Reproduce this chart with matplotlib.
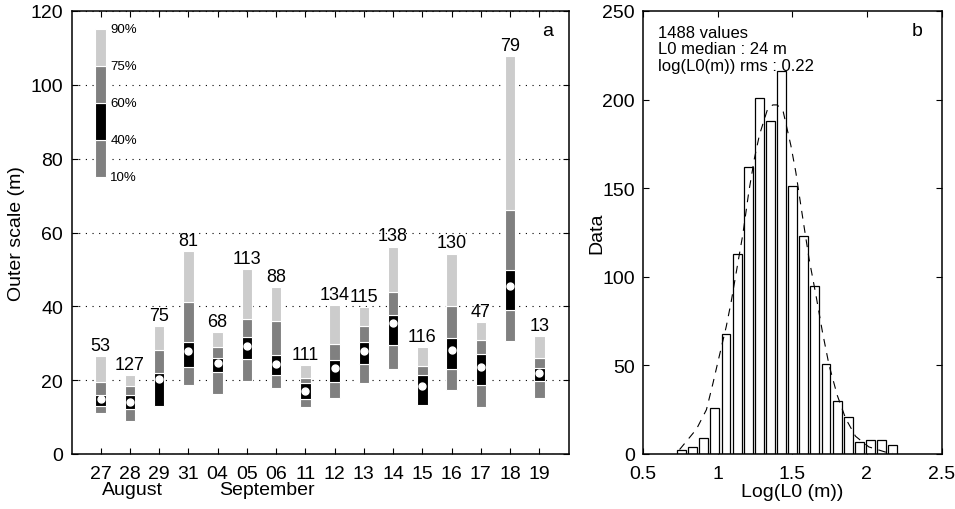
import matplotlib
matplotlib.use('Agg')
import matplotlib.pyplot as plt
import numpy as np

plt.rcParams['font.family'] = ['Liberation Sans', 'DejaVu Sans']

# ---------------- data: panel a ----------------
dates = ['27', '28', '29', '31', '04', '05', '06', '11', '12', '13', '14', '15', '16', '17', '18', '19']
counts = [53, 127, 75, 81, 68, 113, 88, 111, 134, 115, 138, 116, 130, 47, 79, 13]
p10 = [11.0, 9.0, 12.9, 18.6, 16.3, 19.7, 17.8, 12.7, 15.1, 19.3, 23.1, 13.4, 17.4, 12.7, 30.6, 15.2]
p40 = [12.9, 12.2, 12.9, 23.7, 22.2, 25.6, 21.3, 14.9, 19.5, 24.3, 29.4, 13.4, 23.0, 18.8, 38.9, 19.7]
p60 = [16.0, 16.1, 22.0, 30.3, 26.1, 31.6, 26.7, 19.2, 25.5, 30.3, 37.6, 21.3, 31.5, 27.2, 49.8, 23.3]
p75 = [19.6, 18.3, 28.3, 41.2, 29.1, 36.5, 36.1, 20.7, 29.9, 34.6, 43.9, 23.9, 40.1, 30.9, 66.2, 26.0]
p90 = [26.5, 21.3, 34.7, 55.0, 33.1, 50.0, 45.3, 24.0, 40.3, 39.7, 56.2, 29.0, 54.3, 35.7, 107.7, 32.0]
median = [14.9, 14.2, 20.2, 27.9, 24.7, 29.2, 24.3, 17.0, 23.3, 27.9, 35.6, 18.4, 28.1, 23.7, 45.4, 22.0]
months = ['August', 'September']
month_pos = [2.1, 6.7]

legend_levels = [75, 85, 95, 105, 115]
legend_labels = ['10%', '40%', '60%', '75%', '90%']

# ---------------- data: panel b ----------------
bin_centers = [0.758, 0.832, 0.907, 0.981, 1.056, 1.130, 1.205, 1.279, 1.354, 1.428,
               1.503, 1.577, 1.651, 1.726, 1.800, 1.875, 1.949, 2.024, 2.098, 2.172]
hist_counts = [2, 4, 9, 26, 68, 113, 162, 201, 188, 216, 151, 123, 95, 51, 30, 21, 7, 8, 8, 5]
fit_x = [0.745, 0.858, 0.925, 0.969, 1.002, 1.058, 1.091, 1.136, 1.169, 1.209, 1.247, 1.280,
         1.336, 1.370, 1.400, 1.440, 1.491, 1.524, 1.567, 1.613, 1.658, 1.702, 1.747, 1.802,
         1.858, 1.924, 2.013, 2.124, 2.172]
fit_y = [2.5, 14, 25, 40, 52, 72, 86, 108, 124, 148, 167, 180,
         195, 197, 197, 193, 174, 159, 135, 110, 90, 69, 50, 33,
         20, 10, 4, 1.1, 0.5]
info_lines = ['1488 values', 'L0 median : 24 m', 'log(L0(m)) rms : 0.22']

# ---------------- figure ----------------
fig = plt.figure(figsize=(9.55, 5.10), dpi=100)
ax = fig.add_axes([71.5 / 955, 55 / 510, 497 / 955, 443 / 510])
bx = fig.add_axes([643 / 955, 55 / 510, 298.5 / 955, 443 / 510])

LIGHT = '#cccccc'
MID = '#808080'

# panel a
x = np.arange(1, len(dates) + 1)
segs = [(p10, p40, MID), (p40, p60, 'black'), (p60, p75, MID), (p75, p90, LIGHT)]
bw = 0.36
for lo, hi, c in segs:
    lo = np.array(lo); hi = np.array(hi)
    ax.bar(x, hi - lo, bottom=lo, width=bw, color=c, edgecolor='white',
           linewidth=0.8, zorder=3)
ax.plot(x, median, 'o', color='white', mec='white', ms=5, zorder=4)
for xi, top, n in zip(x, p90, counts):
    ax.annotate(str(n), (xi, top), xytext=(0, 1.5), textcoords='offset points',
                ha='center', va='bottom', fontsize=13)

# legend bar
leg_colors = [MID, 'black', MID, LIGHT]
for i, c in enumerate(leg_colors):
    ax.bar(1, legend_levels[i + 1] - legend_levels[i], bottom=legend_levels[i],
           width=bw, color=c, edgecolor='white', linewidth=0.8, zorder=3)
for lev, lab in zip(legend_levels, legend_labels):
    ax.text(1.33, lev, lab, ha='left', va='center', fontsize=9.5)

ax.set_xlim(0, 17)
ax.set_ylim(0, 120)
ax.set_xticks(x)
ax.set_xticklabels(dates)
ax.set_yticks(np.arange(0, 121, 20))
ax.yaxis.grid(True, linestyle=(0, (1, 5)), color='black', linewidth=0.8)
ax.set_axisbelow(True)
ax.tick_params(axis='x', direction='in', top=True, length=4, width=0.8,
               labelsize=14, pad=8)
ax.tick_params(axis='y', direction='in', right=True, length=4, width=0.8,
               labelsize=14, pad=6)
ax.set_ylabel('Outer scale (m)', fontsize=14)
ax.yaxis.set_label_coords(-0.094, 0.5)
for m, p in zip(months, month_pos):
    ax.text(p, (455 - 491) / 443, m, transform=ax.get_xaxis_transform(),
            ha='center', va='center', fontsize=14)
ax.text(0.957, 0.955, 'a', transform=ax.transAxes, ha='center', va='center', fontsize=14)
for s in ax.spines.values():
    s.set_linewidth(1.1)

# panel b
bx.bar(bin_centers, hist_counts, width=0.06, color='white', edgecolor='black',
       linewidth=0.9, zorder=2)
bx.plot(fit_x, fit_y, color='black', lw=0.8, linestyle=(0, (7, 6)), zorder=3)
bx.set_xlim(0.5, 2.5)
bx.set_ylim(0, 250)
bx.set_xticks([0.5, 1, 1.5, 2, 2.5])
bx.set_xticklabels(['0.5', '1', '1.5', '2', '2.5'])
bx.set_yticks(np.arange(0, 251, 50))
bx.tick_params(axis='x', direction='in', top=True, length=4, width=0.8,
               labelsize=14, pad=8)
bx.tick_params(axis='y', direction='in', right=True, length=4, width=0.8,
               labelsize=14, pad=6)
bx.set_xlabel('Log(L0 (m))', fontsize=14)
bx.xaxis.set_label_coords(0.5, (455 - 484) / 443)
bx.set_ylabel('Data', fontsize=14)
bx.yaxis.set_label_coords(-0.127, 0.5)
bx.text(0.051, 0.968, '\n'.join(info_lines), transform=bx.transAxes,
        ha='left', va='top', fontsize=12, linespacing=1.1)
bx.text(0.918, 0.955, 'b', transform=bx.transAxes, ha='center', va='center', fontsize=14)
for s in bx.spines.values():
    s.set_linewidth(1.1)

fig.savefig('out.png', dpi=100)
